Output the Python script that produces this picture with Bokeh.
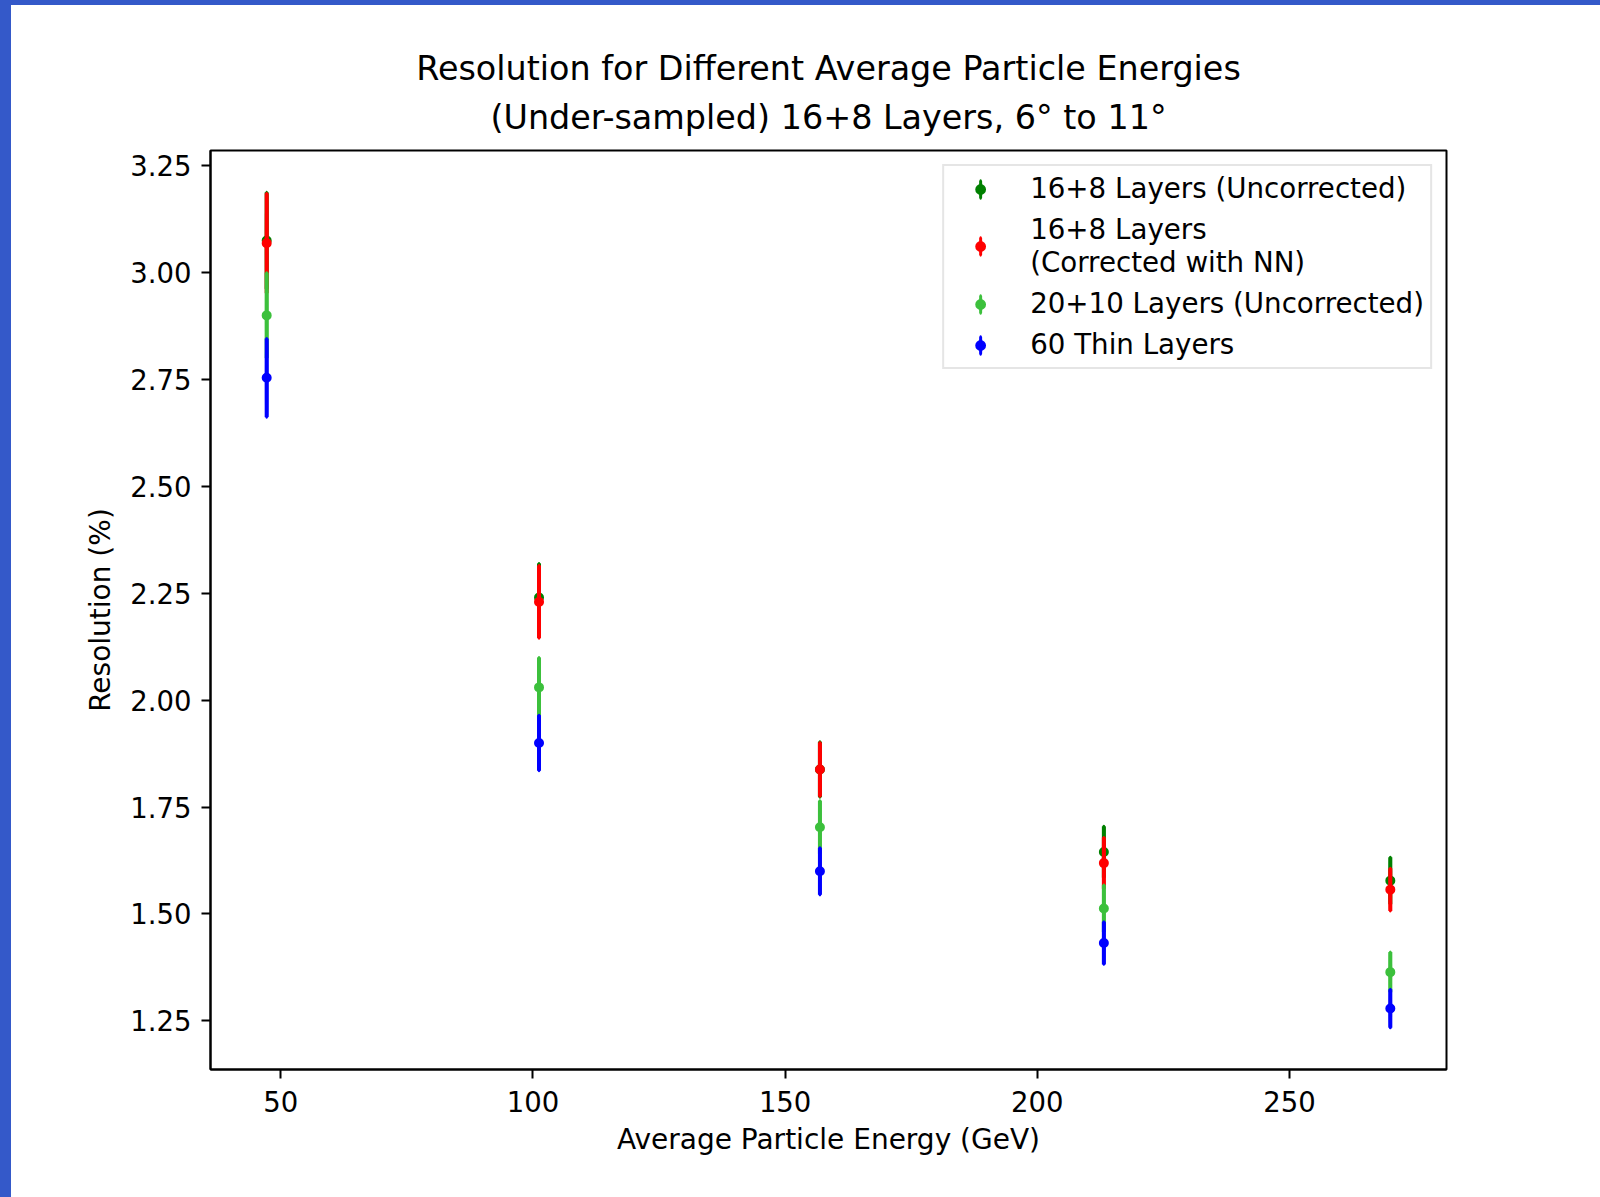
import numpy as np
from bokeh.plotting import figure
from bokeh.models import (Range1d, FixedTicker, PrintfTickFormatter, Legend, LegendItem,
                          ColumnDataSource, Spacer, Title)
from bokeh.layouts import row, column
from bokeh.embed import file_html
from bokeh.resources import INLINE

# ---------------- data ----------------
energy = [47.2, 101.2, 156.9, 213.2, 270.0]

series_labels = [
    "16+8 Layers (Uncorrected)",
    "16+8 Layers\n(Corrected with NN)",
    "20+10 Layers (Uncorrected)",
    "60 Thin Layers",
]

res_16_8_uncorr = [3.075, 2.240, 1.838, 1.645, 1.578]
err_16_8_uncorr = [0.113, 0.080, 0.065, 0.060, 0.055]

res_16_8_nn = [3.069, 2.230, 1.838, 1.619, 1.557]
err_16_8_nn = [0.117, 0.085, 0.063, 0.060, 0.050]

res_20_10_uncorr = [2.900, 2.030, 1.703, 1.513, 1.364]
err_20_10_uncorr = [0.100, 0.070, 0.062, 0.055, 0.047]

res_60_thin = [2.754, 1.900, 1.600, 1.432, 1.279]
err_60_thin = [0.092, 0.065, 0.055, 0.050, 0.045]

x_ticks = [50, 100, 150, 200, 250]
y_ticks = [1.25, 1.50, 1.75, 2.00, 2.25, 2.50, 2.75, 3.00, 3.25]

title_line1 = "Resolution for Different Average Particle Energies"
title_line2 = "(Under-sampled) 16+8 Layers, 6\u00b0 to 11\u00b0"

# ---------------- styling ----------------
colors = ["#008000", "#ff0000", "#3cc03c", "#0000ff"]
FONT = "DejaVu Sans"
values = [res_16_8_uncorr, res_16_8_nn, res_20_10_uncorr, res_60_thin]
errors = [err_16_8_uncorr, err_16_8_nn, err_20_10_uncorr, err_60_thin]

# matplotlib-like 5% margins
xa = np.array(energy)
lo = min((np.array(v) - np.array(e)).min() for v, e in zip(values, errors))
hi = max((np.array(v) + np.array(e)).max() for v, e in zip(values, errors))
xpad = 0.05 * (xa.max() - xa.min())
ypad = 0.05 * (hi - lo)

PAGE_W, PAGE_H = 1600, 1197
STRIP_L, STRIP_T = 11, 5
FIG_W, FIG_H = PAGE_W - STRIP_L, PAGE_H - STRIP_T

p = figure(width=FIG_W, height=FIG_H, output_backend="svg", toolbar_location=None,
           title=None,
           x_range=Range1d(xa.min() - xpad, xa.max() + xpad),
           y_range=Range1d(lo - ypad, hi + ypad),
           min_border_left=199, min_border_right=FIG_W - 1435,
           min_border_top=145, min_border_bottom=FIG_H - 1064)

p.background_fill_color = "white"
p.border_fill_color = "white"
p.outline_line_color = "black"
p.outline_line_width = 2
p.xgrid.visible = False
p.ygrid.visible = False

# two centred title lines (the later one sits farther from the frame)
for txt, standoff in ((title_line2, 27), (title_line1, -10)):
    p.add_layout(Title(text=txt, align="center", text_font=FONT, text_font_size="33.4px",
                       text_font_style="normal", text_color="black", standoff=standoff),
                 "above")

for ax in (p.xaxis[0], p.yaxis[0]):
    ax.axis_line_color = "black"
    ax.axis_line_width = 2
    ax.major_tick_line_color = "black"
    ax.major_tick_line_width = 2
    ax.major_tick_in = 0
    ax.major_tick_out = 9
    ax.minor_tick_line_color = None
    ax.major_label_text_font = FONT
    ax.major_label_text_font_size = "27.5px"
    ax.major_label_text_color = "black"
    ax.axis_label_text_font = FONT
    ax.axis_label_text_font_size = "28px"
    ax.axis_label_text_font_style = "normal"
    ax.axis_label_text_color = "black"

p.xaxis.ticker = FixedTicker(ticks=x_ticks)
p.xaxis.formatter = PrintfTickFormatter(format="%d")
p.xaxis.axis_label = "Average Particle Energy (GeV)"
p.xaxis.major_label_standoff = 12
p.xaxis.axis_label_standoff = 8

p.yaxis.ticker = FixedTicker(ticks=y_ticks)
p.yaxis.formatter = PrintfTickFormatter(format="%.2f")
p.yaxis.axis_label = "Resolution (%)"
p.yaxis.major_label_standoff = 10
p.yaxis.axis_label_standoff = 10

items = []
for lab, vals, errs, c in zip(series_labels, values, errors, colors):
    v = np.array(vals)
    e = np.array(errs)
    src = ColumnDataSource(dict(x=energy, y=vals, lo=list(v - e), hi=list(v + e), h=list(2 * e)))
    # thin ellipse: hidden under the error bar, gives a vertical bar in the legend
    ell = p.ellipse(x="x", y="y", width=0.5, height="h", width_units="screen",
                    height_units="data", fill_color=c, line_color=c, line_width=3,
                    source=src)
    p.segment(x0="x", y0="lo", x1="x", y1="hi", line_color=c, line_width=4, source=src)
    sc = p.scatter(x="x", y="y", size=8, fill_color=c, line_color=c, line_width=2, source=src)
    items.append(LegendItem(label=lab, renderers=[ell, sc]))

legend = Legend(items=items, location="top_right")
legend.label_text_font = FONT
legend.label_text_font_size = "27.7px"
legend.label_text_color = "black"
legend.label_text_line_height = 1.25
legend.glyph_width = 60
legend.glyph_height = 22
legend.label_standoff = 20
legend.padding = 6
legend.spacing = 8
legend.margin = 14
legend.border_line_color = "#cccccc"
legend.border_line_width = 2
legend.background_fill_alpha = 0.8
p.add_layout(legend)

strip_left = Spacer(width=STRIP_L, height=PAGE_H, styles={"background-color": "#3459c9"})
strip_top = Spacer(width=FIG_W, height=STRIP_T, styles={"background-color": "#3459c9"})
layout = row(strip_left, column(strip_top, p, spacing=0), spacing=0)

open("out.html", "w").write(file_html(layout, INLINE))
